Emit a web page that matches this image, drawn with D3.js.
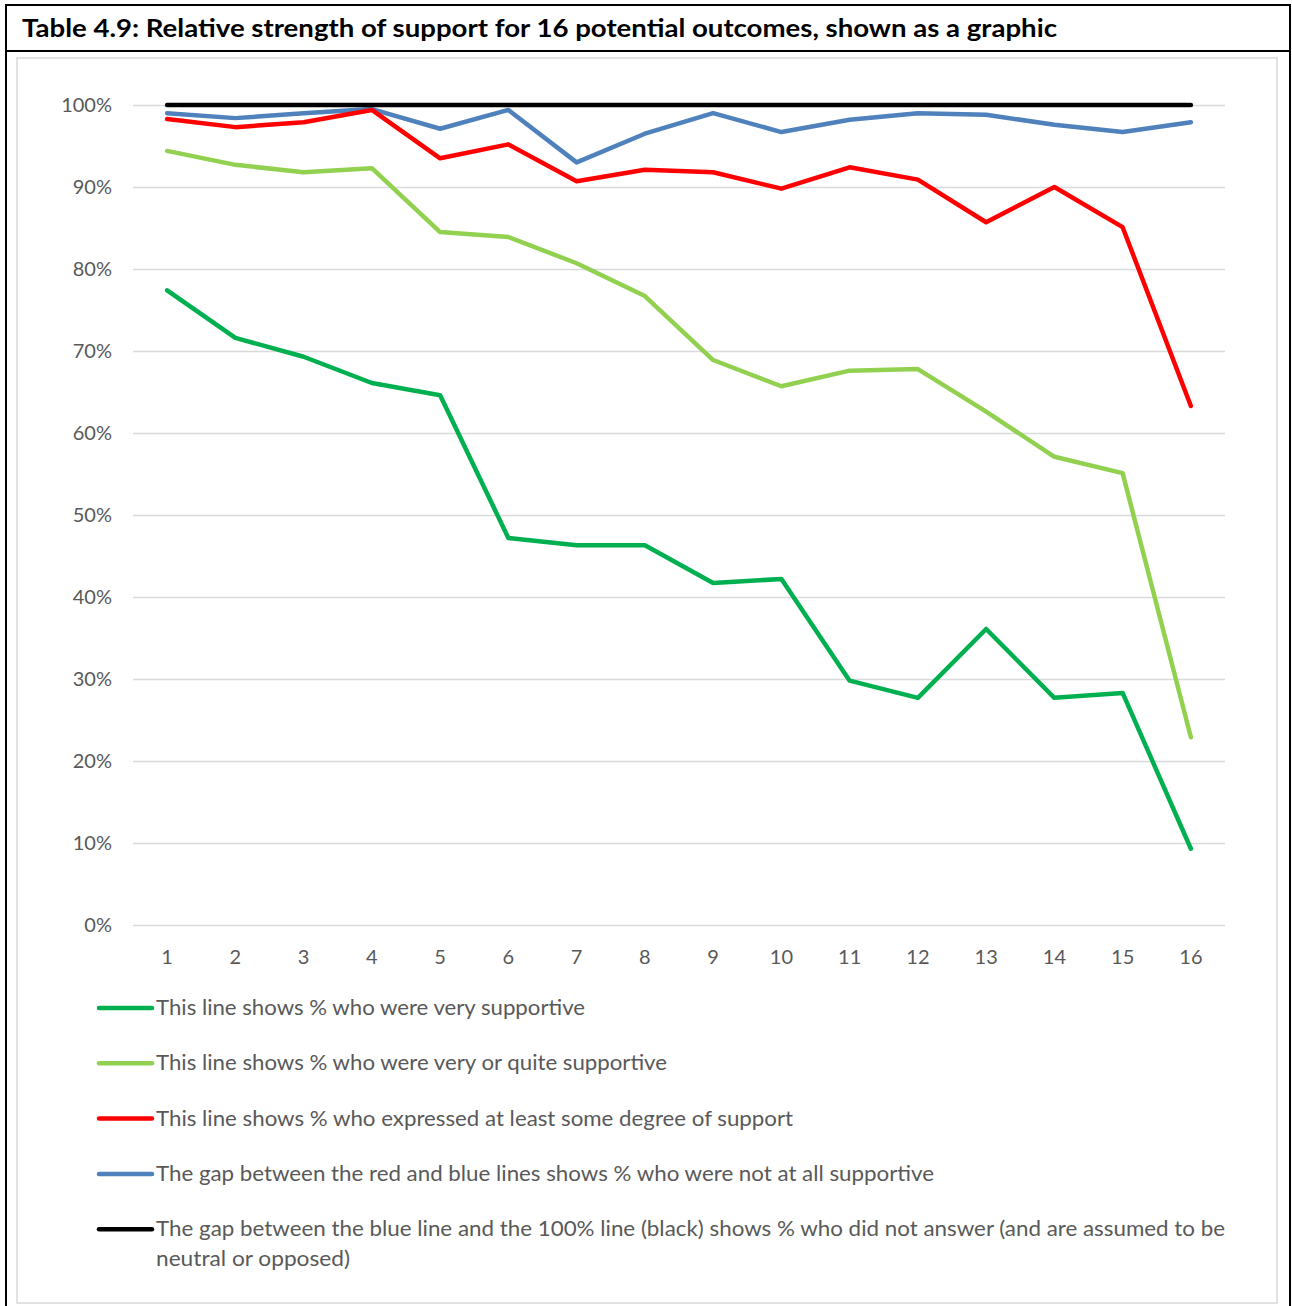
<!DOCTYPE html>
<html>
<head>
<meta charset="utf-8">
<script src="https://cdn.jsdelivr.net/npm/d3@7"></script>
<style>
  body { margin: 0; background: #fff; }
  svg text { font-family: Lato, "Open Sans", sans-serif; }
</style>
</head>
<body>
<div id="chart"></div>
<script>
const outcomes = d3.range(1, 17).map(String);
const yTicks = [0, 0.1, 0.2, 0.3, 0.4, 0.5, 0.6, 0.7, 0.8, 0.9, 1];

const verySupportive = [77.4, 71.6, 69.3, 66.1, 64.6, 47.2, 46.3, 46.3, 41.7, 42.2, 29.8, 27.7, 36.1, 27.7, 28.3, 9.3];
const veryOrQuite = [94.4, 92.7, 91.8, 92.3, 84.5, 83.9, 80.7, 76.7, 68.9, 65.7, 67.6, 67.8, 62.6, 57.1, 55.1, 22.9];
const someSupport = [98.3, 97.3, 97.9, 99.4, 93.5, 95.2, 90.7, 92.1, 91.8, 89.8, 92.4, 90.9, 85.7, 90.0, 85.1, 63.3];
const answered = [99.0, 98.4, 99.0, 99.5, 97.1, 99.4, 93.0, 96.5, 99.0, 96.7, 98.2, 99.0, 98.8, 97.6, 96.7, 97.9];
const total = outcomes.map(() => 100);

const legendLabels = [
  "This line shows % who were very supportive",
  "This line shows % who were very or quite supportive",
  "This line shows % who expressed at least some degree of support",
  "The gap between the red and blue lines shows % who were not at all supportive",
  "The gap between the blue line and the 100% line (black) shows % who did not answer (and are assumed to be"
];
const legendWrap = "neutral or opposed)";

const series = [
  {values: answered, color: "#4F81BD"},
  {values: someSupport, color: "#FF0000"},
  {values: veryOrQuite, color: "#92D050"},
  {values: verySupportive, color: "#00B050"},
  {values: total, color: "#000000"}
];
const legendColors = ["#00B050", "#92D050", "#FF0000", "#4F81BD", "#000000"];

const width = 1292, height = 1306;
const svg = d3.select("#chart").append("svg")
  .attr("width", width).attr("height", height);

// frame of the table
svg.append("rect").attr("x", 6).attr("y", 5).attr("width", 1284).attr("height", 1310)
  .attr("fill", "none").attr("stroke", "#000").attr("stroke-width", 2);
svg.append("line").attr("x1", 6).attr("x2", 1290).attr("y1", 51).attr("y2", 51)
  .attr("stroke", "#000").attr("stroke-width", 2);
svg.append("text").attr("x", 22).attr("y", 37)
  .attr("font-size", 25).attr("font-weight", "bold").attr("fill", "#000")
  .attr("textLength", 1035).attr("lengthAdjust", "spacingAndGlyphs")
  .text("Table 4.9: Relative strength of support for 16 potential outcomes, shown as a graphic");

// chart area box
svg.append("rect").attr("x", 17).attr("y", 58).attr("width", 1260).attr("height", 1245)
  .attr("fill", "#fff").attr("stroke", "#d9d9d9").attr("stroke-width", 1.5);

const x = d3.scaleBand().domain(outcomes).range([133, 1225]);
const y = d3.scaleLinear().domain([0, 1]).range([925, 105]);
const cx = d => x(d) + x.bandwidth() / 2;

// gridlines
svg.append("g")
  .attr("transform", "translate(133,0)")
  .call(d3.axisLeft(y).tickValues(yTicks).tickSize(-1092).tickFormat(""))
  .call(g => g.select(".domain").remove())
  .call(g => g.selectAll("line").attr("stroke", "#d9d9d9").attr("stroke-width", 1.5));

// y labels
svg.append("g")
  .attr("transform", "translate(120,0)")
  .call(d3.axisLeft(y).tickValues(yTicks).tickSize(0).tickPadding(8).tickFormat(d3.format(".0%")))
  .call(g => g.select(".domain").remove())
  .call(g => g.selectAll("text").attr("font-size", 20).attr("fill", "#595959")
    .style("font-family", "Lato, sans-serif"));

// x labels
svg.append("g")
  .attr("transform", "translate(0,925)")
  .call(d3.axisBottom(x).tickSize(0).tickPadding(25))
  .call(g => g.select(".domain").remove())
  .call(g => g.selectAll("text").attr("font-size", 20).attr("fill", "#595959")
    .style("font-family", "Lato, sans-serif"));

const line = d3.line()
  .x((d, i) => cx(outcomes[i]))
  .y(d => y(d / 100));

series.forEach(s => {
  svg.append("path")
    .datum(s.values)
    .attr("fill", "none")
    .attr("stroke", s.color)
    .attr("stroke-width", 4.5)
    .attr("stroke-linejoin", "round")
    .attr("stroke-linecap", "round")
    .attr("d", line);
});

// legend
const legend = svg.append("g");
const legendWidths = [429, 511, 637, 778, 1069];
legendLabels.forEach((label, i) => {
  const ly = 1008 + i * 55.3;
  legend.append("line")
    .attr("x1", 99).attr("x2", 152).attr("y1", ly).attr("y2", ly)
    .attr("stroke", legendColors[i]).attr("stroke-width", 4.5).attr("stroke-linecap", "round");
  legend.append("text")
    .attr("x", 156).attr("y", ly + 7)
    .attr("font-size", 21).attr("fill", "#595959")
    .attr("textLength", legendWidths[i]).attr("lengthAdjust", "spacingAndGlyphs")
    .text(label);
});
legend.append("text")
  .attr("x", 156).attr("y", 1008 + 4 * 55.3 + 37)
  .attr("font-size", 21).attr("fill", "#595959")
  .attr("textLength", 194).attr("lengthAdjust", "spacingAndGlyphs")
  .text(legendWrap);
</script>
</body>
</html>
